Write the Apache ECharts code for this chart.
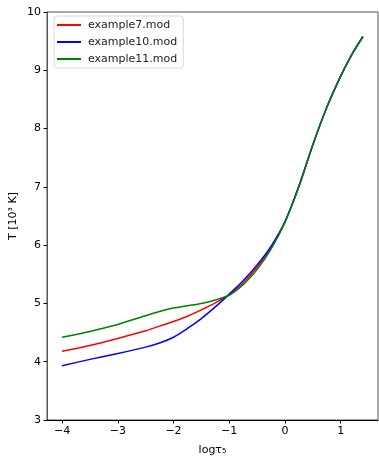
<!DOCTYPE html>
<html>
<head>
<meta charset="utf-8">
<script src="https://cdn.jsdelivr.net/npm/echarts@6/dist/echarts.min.js"></script>
<style>html,body{margin:0;padding:0;background:#fff}#c{width:379px;height:456px}</style>
</head>
<body>
<div id="c"></div>
<script>
const logTau = [-4, -3.5, -3, -2.5, -2.25, -2, -1.75, -1.5, -1.25, -1, -0.75, -0.5, -0.25, 0, 0.25, 0.5, 0.75, 1, 1.2, 1.4];
const example7 = [4.18, 4.28, 4.40, 4.53, 4.61, 4.69, 4.78, 4.89, 5.01, 5.15, 5.35, 5.62, 5.96, 6.40, 7.01, 7.72, 8.36, 8.90, 9.27, 9.58];
const example10 = [3.93, 4.04, 4.14, 4.25, 4.32, 4.42, 4.57, 4.74, 4.94, 5.16, 5.39, 5.66, 5.98, 6.40, 7.01, 7.72, 8.36, 8.90, 9.27, 9.58];
const example11 = [4.42, 4.52, 4.64, 4.79, 4.86, 4.92, 4.96, 5.00, 5.06, 5.14, 5.32, 5.58, 5.93, 6.39, 7.00, 7.72, 8.36, 8.90, 9.27, 9.58];
const seriesNames = ['example7.mod', 'example10.mod', 'example11.mod'];
const xTicks = [-4, -3, -2, -1, 0, 1];
const yTicks = [3, 4, 5, 6, 7, 8, 9, 10];

const colors = ['#ff0000', '#0000ff', '#008000'];
const font = 'DejaVu Sans';
function pairs(ys) { return logTau.map((x, i) => [x, ys[i]]); }
const fmt = v => String(v).replace('-', '\u2212');

const chart = echarts.init(document.getElementById('c'), null, {renderer: 'canvas'});
chart.setOption({
  animation: false,
  backgroundColor: '#fff',
  grid: {left: 47, right: 1, top: 12, bottom: 36, containLabel: false, outerBoundsMode: 'none',
    show: true, borderColor: '#555', borderWidth: 1, backgroundColor: 'transparent'},
  legend: {
    orient: 'vertical', left: 54, top: 16, padding: [2, 6, 2, 3],
    backgroundColor: '#fff', borderColor: '#d8d8d8', borderWidth: 1, borderRadius: 3,
    itemWidth: 24, itemHeight: 2, itemGap: 3, icon: 'rect',
    textStyle: {fontFamily: font, fontSize: 11, color: '#222', lineHeight: 14, padding: [0, 0, 0, 2]},
    data: seriesNames
  },
  xAxis: {
    type: 'value', min: -4.27, max: 1.67,
    name: 'logτ\u2085', nameLocation: 'middle', nameGap: 25,
    nameTextStyle: {fontFamily: font, fontSize: 11, color: '#000'},
    axisLine: {show: true, onZero: false, lineStyle: {color: '#000', width: 1}},
    axisTick: {show: true, customValues: xTicks, length: 3.5, lineStyle: {color: '#000'}},
    axisLabel: {customValues: xTicks, formatter: fmt, fontFamily: font, fontSize: 11, color: '#000', margin: 6},
    splitLine: {show: false}
  },
  yAxis: {
    type: 'value', min: 3, max: 10, interval: 1,
    name: 'T [10\u00b3 K]', nameLocation: 'middle', nameGap: 28, nameRotate: 90, nameMoveOverlap: false,
    nameTextStyle: {fontFamily: font, fontSize: 11, color: '#000'},
    axisLine: {show: true, onZero: false, lineStyle: {color: '#555', width: 1}},
    axisTick: {show: true, length: 3.5, lineStyle: {color: '#000'}},
    axisLabel: {formatter: fmt, fontFamily: font, fontSize: 11, color: '#000', margin: 6},
    splitLine: {show: false}
  },
  series: [example7, example10, example11].map((ys, i) => ({
    name: seriesNames[i], type: 'line', data: pairs(ys), smooth: 0.3,
    showSymbol: false, symbol: 'none', color: colors[i],
    lineStyle: {color: colors[i], width: 1.5}, itemStyle: {color: colors[i]}
  }))
});
</script>
</body>
</html>
